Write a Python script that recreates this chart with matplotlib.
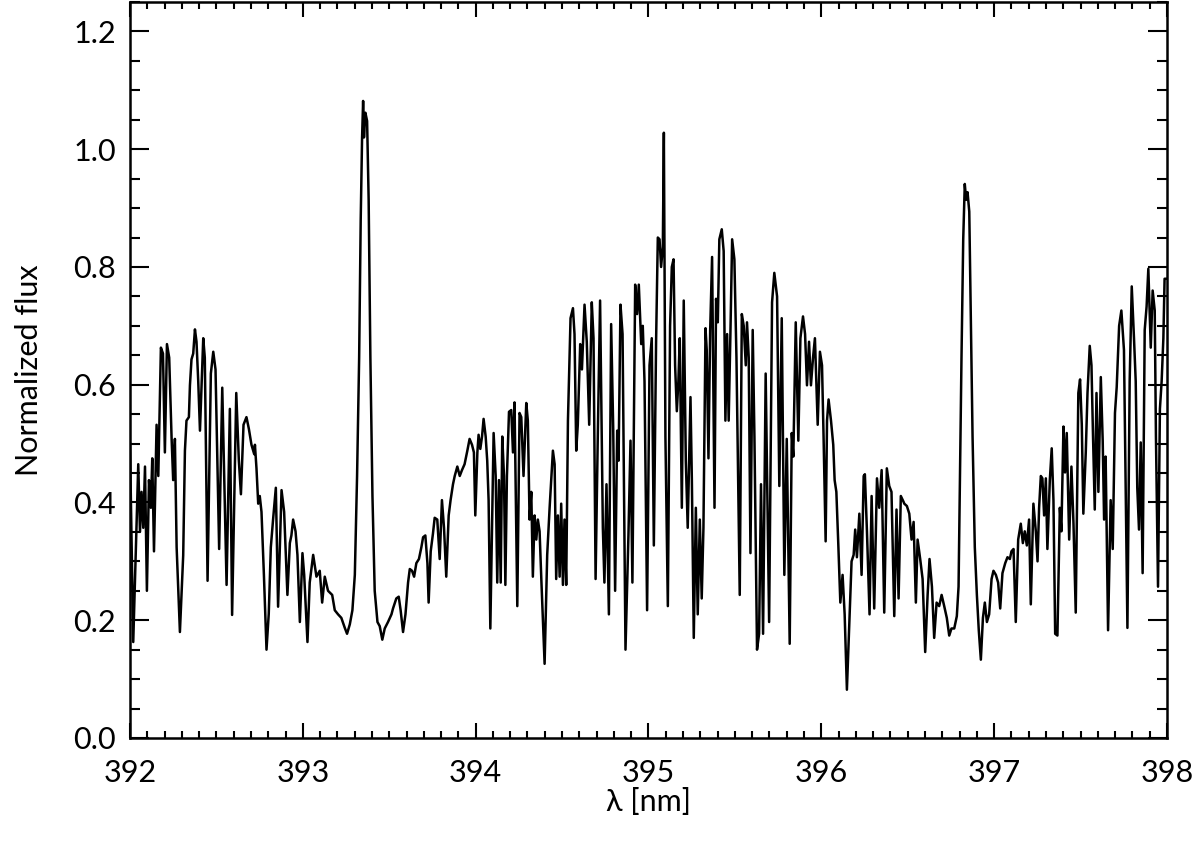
import matplotlib
matplotlib.use("Agg")
import matplotlib.pyplot as plt
from matplotlib.ticker import MultipleLocator, FormatStrFormatter
import numpy as np

# wavelength [nm] and normalized flux
wave = np.array([
    392.000, 392.019, 392.048, 392.058, 392.067, 392.077, 392.087, 392.098, 392.110, 392.121,
    392.129, 392.139, 392.154, 392.164, 392.179, 392.191, 392.202, 392.214, 392.227, 392.241,
    392.250, 392.260, 392.270, 392.289, 392.308, 392.318, 392.327, 392.341, 392.347, 392.356,
    392.366, 392.376, 392.385, 392.395, 392.405, 392.424, 392.433, 392.449, 392.468, 392.482,
    392.495, 392.516, 392.534, 392.559, 392.578, 392.591, 392.615, 392.630, 392.642, 392.657,
    392.674, 392.688, 392.703, 392.719,
    392.723, 392.732, 392.742, 392.751, 392.761, 392.775, 392.790, 392.803, 392.815, 392.828,
    392.844, 392.857, 392.877, 392.892, 392.911, 392.925, 392.934, 392.944, 392.958, 392.969,
    392.983, 392.998, 393.008, 393.027, 393.040, 393.060, 393.079, 393.098, 393.112, 393.127,
    393.146, 393.170, 393.185, 393.204, 393.223, 393.243, 393.256, 393.272, 393.287, 393.301,
    393.314, 393.326, 393.335, 393.343, 393.349, 393.354, 393.362, 393.372, 393.381, 393.391,
    393.403, 393.416, 393.432, 393.445, 393.460,
    393.474, 393.493, 393.513, 393.522, 393.541, 393.555, 393.566, 393.580, 393.594, 393.609,
    393.619, 393.632, 393.644, 393.657, 393.672, 393.686, 393.696, 393.709, 393.721, 393.728,
    393.740, 393.753, 393.763, 393.778, 393.792, 393.805, 393.817, 393.830, 393.844, 393.855,
    393.869, 393.879, 393.894, 393.908, 393.921, 393.936, 393.952, 393.965, 393.979, 393.990,
    393.998, 394.010, 394.017, 394.027, 394.037, 394.046, 394.058, 394.067, 394.075, 394.085,
    394.094, 394.104, 394.116, 394.125, 394.135, 394.145, 394.154, 394.164, 394.172, 394.181,
    394.193, 394.206, 394.216, 394.225,
    394.241, 394.254, 394.264, 394.277, 394.293, 394.302, 394.312, 394.322, 394.331, 394.341,
    394.351, 394.360, 394.370, 394.380, 394.399, 394.414, 394.428, 394.447, 394.457, 394.466,
    394.476, 394.486, 394.495, 394.505, 394.514, 394.524, 394.534, 394.549, 394.563, 394.572,
    394.582, 394.591, 394.605, 394.615, 394.630, 394.643, 394.657, 394.672, 394.682, 394.694,
    394.707, 394.720, 394.736, 394.745, 394.757, 394.771, 394.784, 394.796, 394.807, 394.819,
    394.827, 394.838, 394.850, 394.867, 394.884, 394.896, 394.907, 394.923, 394.934, 394.944,
    394.958, 394.967, 394.977,
    394.992, 395.006, 395.019, 395.031, 395.044, 395.054, 395.064, 395.073, 395.083, 395.089,
    395.098, 395.112, 395.125, 395.135, 395.145, 395.154, 395.164, 395.173, 395.181, 395.193,
    395.204, 395.216, 395.227, 395.243, 395.251, 395.262, 395.274, 395.285, 395.297, 395.308,
    395.318, 395.330, 395.337, 395.347, 395.357, 395.368, 395.382, 395.391, 395.401, 395.410,
    395.424, 395.435, 395.445, 395.455, 395.464, 395.474, 395.484, 395.497, 395.509, 395.528,
    395.540, 395.551, 395.563, 395.570, 395.580, 395.590, 395.603, 395.613, 395.628, 395.640,
    395.651, 395.663, 395.678, 395.686, 395.698, 395.715, 395.728,
    395.744, 395.757, 395.771, 395.786, 395.800, 395.817, 395.829, 395.838, 395.852, 395.867,
    395.879, 395.894, 395.906, 395.917, 395.929, 395.940, 395.952, 395.963, 395.979, 395.992,
    396.004, 396.013, 396.025, 396.033, 396.042, 396.056, 396.069, 396.077, 396.087, 396.098,
    396.110, 396.123, 396.135, 396.148, 396.162, 396.175, 396.187, 396.196, 396.206, 396.220,
    396.233, 396.245, 396.252, 396.264, 396.279, 396.291, 396.306, 396.322, 396.335, 396.349,
    396.364, 396.379, 396.393, 396.406, 396.422, 396.435, 396.447, 396.460, 396.476,
    396.480, 396.495, 396.509, 396.522, 396.534, 396.547, 396.557, 396.572, 396.586, 396.601,
    396.615, 396.626, 396.640, 396.653, 396.667, 396.682, 396.696, 396.711, 396.726, 396.740,
    396.753, 396.769, 396.784, 396.794, 396.802, 396.811, 396.821, 396.830, 396.838, 396.846,
    396.856, 396.865, 396.875, 396.888, 396.900, 396.911, 396.923, 396.935, 396.946, 396.958,
    396.971, 396.985, 396.996, 397.010, 397.023, 397.035, 397.048, 397.064, 397.077, 397.091,
    397.100, 397.112, 397.125, 397.139, 397.154, 397.166, 397.177, 397.189, 397.202, 397.212,
    397.227,
    397.241, 397.251, 397.260, 397.270, 397.279, 397.289, 397.299, 397.308, 397.322, 397.333,
    397.343, 397.353, 397.366, 397.380, 397.389, 397.401, 397.410, 397.420, 397.434, 397.447,
    397.459, 397.472, 397.487, 397.497, 397.507, 397.516, 397.530, 397.540, 397.553, 397.563,
    397.572, 397.582, 397.592, 397.603, 397.617, 397.628, 397.636, 397.645, 397.659, 397.674,
    397.686, 397.699, 397.709, 397.723, 397.736, 397.751, 397.771, 397.784, 397.796, 397.809,
    397.819, 397.828, 397.838, 397.848, 397.859, 397.871, 397.882, 397.892, 397.906, 397.917,
    397.929, 397.936, 397.948, 397.959, 397.969, 397.979, 397.986, 398.000,
])

flux = np.array([
    0.500, 0.163, 0.465, 0.350, 0.418, 0.357, 0.461, 0.250, 0.438, 0.391,
    0.475, 0.317, 0.532, 0.445, 0.663, 0.653, 0.485, 0.669, 0.646, 0.508,
    0.438, 0.508, 0.324, 0.180, 0.310, 0.488, 0.539, 0.545, 0.599, 0.643,
    0.653, 0.694, 0.673, 0.606, 0.522, 0.679, 0.646, 0.267, 0.619, 0.656,
    0.626, 0.321, 0.595, 0.260, 0.559, 0.209, 0.586, 0.471, 0.414, 0.532,
    0.545, 0.525, 0.498, 0.482,
    0.498, 0.458, 0.398, 0.411, 0.384, 0.277, 0.150, 0.211, 0.324, 0.371,
    0.425, 0.223, 0.421, 0.384, 0.243, 0.331, 0.344, 0.371, 0.351, 0.311,
    0.197, 0.314, 0.277, 0.163, 0.264, 0.311, 0.274, 0.284, 0.230, 0.274,
    0.250, 0.243, 0.217, 0.210, 0.204, 0.187, 0.177, 0.193, 0.217, 0.277,
    0.445, 0.646, 0.880, 1.020, 1.082, 1.020, 1.062, 1.048, 0.914, 0.646,
    0.411, 0.250, 0.197, 0.190, 0.167,
    0.186, 0.197, 0.210, 0.220, 0.237, 0.240, 0.217, 0.180, 0.210, 0.264,
    0.287, 0.284, 0.274, 0.297, 0.304, 0.324, 0.341, 0.344, 0.297, 0.230,
    0.317, 0.347, 0.374, 0.371, 0.304, 0.404, 0.357, 0.274, 0.378, 0.404,
    0.431, 0.445, 0.461, 0.445, 0.455, 0.465, 0.488, 0.508, 0.498, 0.485,
    0.378, 0.485, 0.515, 0.491, 0.512, 0.542, 0.512, 0.471, 0.404, 0.186,
    0.344, 0.518, 0.445, 0.264, 0.438, 0.264, 0.512, 0.445, 0.260, 0.445,
    0.554, 0.557, 0.485, 0.570,
    0.224, 0.552, 0.545, 0.445, 0.569, 0.539, 0.371, 0.418, 0.274, 0.378,
    0.337, 0.371, 0.351, 0.270, 0.126, 0.311, 0.391, 0.488, 0.465, 0.270,
    0.378, 0.274, 0.398, 0.260, 0.371, 0.260, 0.539, 0.713, 0.730, 0.686,
    0.488, 0.532, 0.669, 0.626, 0.736, 0.673, 0.532, 0.740, 0.679, 0.270,
    0.518, 0.743, 0.357, 0.264, 0.431, 0.210, 0.703, 0.525, 0.250, 0.522,
    0.471, 0.736, 0.686, 0.150, 0.344, 0.505, 0.264, 0.770, 0.720, 0.770,
    0.669, 0.700, 0.606,
    0.217, 0.633, 0.679, 0.327, 0.673, 0.850, 0.847, 0.800, 0.834, 1.028,
    0.512, 0.224, 0.700, 0.800, 0.813, 0.633, 0.555, 0.606, 0.679, 0.391,
    0.743, 0.471, 0.357, 0.579, 0.438, 0.170, 0.391, 0.210, 0.371, 0.237,
    0.357, 0.696, 0.659, 0.475, 0.693, 0.817, 0.391, 0.746, 0.706, 0.847,
    0.864, 0.827, 0.539, 0.686, 0.539, 0.686, 0.847, 0.813, 0.646, 0.243,
    0.720, 0.700, 0.633, 0.706, 0.646, 0.314, 0.693, 0.512, 0.150, 0.177,
    0.431, 0.177, 0.619, 0.445, 0.197, 0.740, 0.790,
    0.750, 0.428, 0.713, 0.277, 0.508, 0.160, 0.518, 0.478, 0.706, 0.505,
    0.679, 0.716, 0.686, 0.599, 0.673, 0.599, 0.646, 0.679, 0.532, 0.656,
    0.633, 0.512, 0.334, 0.539, 0.575, 0.539, 0.498, 0.438, 0.418, 0.331,
    0.230, 0.277, 0.210, 0.082, 0.197, 0.300, 0.311, 0.354, 0.307, 0.381,
    0.277, 0.445, 0.448, 0.351, 0.210, 0.411, 0.220, 0.441, 0.391, 0.455,
    0.213, 0.458, 0.428, 0.418, 0.207, 0.388, 0.237, 0.411, 0.401,
    0.398, 0.394, 0.381, 0.337, 0.367, 0.230, 0.337, 0.304, 0.270, 0.146,
    0.243, 0.304, 0.257, 0.170, 0.230, 0.224, 0.243, 0.224, 0.204, 0.174,
    0.186, 0.186, 0.207, 0.257, 0.445, 0.646, 0.847, 0.941, 0.914, 0.927,
    0.894, 0.713, 0.512, 0.324, 0.243, 0.183, 0.133, 0.204, 0.230, 0.197,
    0.210, 0.270, 0.284, 0.277, 0.264, 0.220, 0.280, 0.297, 0.307, 0.304,
    0.317, 0.321, 0.197, 0.337, 0.364, 0.331, 0.351, 0.327, 0.371, 0.227,
    0.398,
    0.351, 0.300, 0.391, 0.445, 0.441, 0.378, 0.441, 0.321, 0.438, 0.492,
    0.404, 0.177, 0.174, 0.391, 0.351, 0.529, 0.451, 0.518, 0.337, 0.461,
    0.364, 0.213, 0.586, 0.609, 0.532, 0.381, 0.485, 0.586, 0.666, 0.633,
    0.512, 0.388, 0.586, 0.418, 0.613, 0.505, 0.371, 0.478, 0.183, 0.404,
    0.321, 0.552, 0.596, 0.700, 0.726, 0.659, 0.187, 0.606, 0.767, 0.679,
    0.606, 0.425, 0.354, 0.502, 0.280, 0.693, 0.733, 0.797, 0.663, 0.760,
    0.726, 0.512, 0.257, 0.559, 0.606, 0.679, 0.780, 0.780,
])

plt.rcParams['font.family'] = ['Lato', 'DejaVu Sans']

fig = plt.figure(figsize=(12, 8.44), dpi=100)
ax = fig.add_axes([0.1083, 0.1256, 0.8642, 0.872])

ax.plot(wave, flux, color='black', lw=1.8)

ax.set_xlim(392, 398)
ax.set_ylim(0.0, 1.25)
ax.xaxis.set_major_locator(MultipleLocator(1))
ax.xaxis.set_minor_locator(MultipleLocator(0.1))
ax.yaxis.set_major_locator(MultipleLocator(0.2))
ax.yaxis.set_minor_locator(MultipleLocator(0.05))
ax.yaxis.set_major_formatter(FormatStrFormatter('%.1f'))
ax.xaxis.set_major_formatter(FormatStrFormatter('%d'))

ax.tick_params(which='both', direction='in', top=True, right=True, width=1.5, labelsize=22)
ax.tick_params(axis='x', which='major', length=11, pad=15)
ax.tick_params(axis='x', which='minor', length=5)
ax.tick_params(axis='y', which='major', length=14, pad=10)
ax.tick_params(axis='y', which='minor', length=7)
for sp in ax.spines.values():
    sp.set_linewidth(1.8)

ax.set_xlabel(r'λ [nm]', fontsize=22, labelpad=1)
ax.set_ylabel('Normalized flux', fontsize=22, labelpad=22)

fig.savefig('out.png', dpi=100)
